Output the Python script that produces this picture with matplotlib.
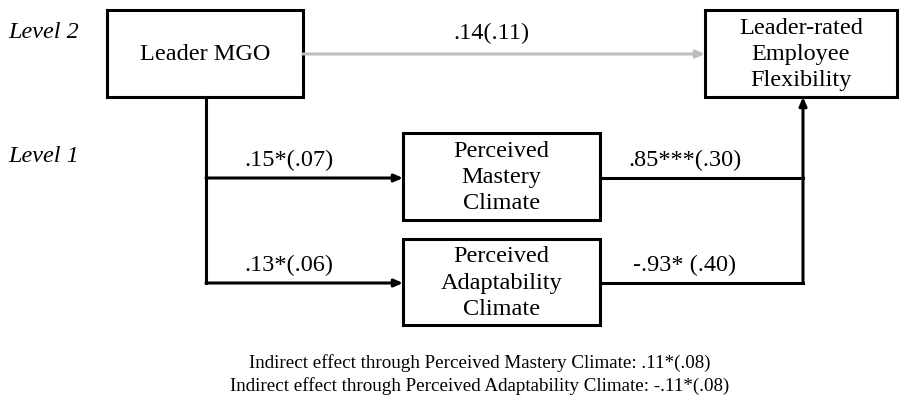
import matplotlib
matplotlib.use('Agg')
import matplotlib.pyplot as plt
from matplotlib.patches import Rectangle

plt.rcParams['font.family'] = ['Liberation Serif', 'DejaVu Serif']

# node labels
box_names = ['Leader MGO', 'Leader-rated\nEmployee\nFlexibility',
             'Perceived\nMastery\nClimate', 'Perceived\nAdaptability\nClimate']
# path coefficients (SE)
direct_label = '.14(.11)'
a_labels = ['.15*(.07)', '.13*(.06)']
b_labels = ['.85***(.30)', '-.93* (.40)']
level_labels = ['Level 2', 'Level 1']
indirect_lines = ['Indirect effect through Perceived Mastery Climate: .11*(.08)',
                  'Indirect effect through Perceived Adaptability Climate: -.11*(.08)']

fig = plt.figure(figsize=(9, 4.08), dpi=100)
ax = fig.add_axes([0, 0, 1, 1])
ax.set_xlim(0, 900)
ax.set_ylim(408, 0)
ax.axis('off')

fs = 17.5
lw = 2.2

# boxes: x0, y0, x1, y1
boxes = [(107, 10, 303, 97), (705, 10, 897, 97), (403, 133, 600, 220), (403, 239, 600, 325)]
for (x0, y0, x1, y1), name in zip(boxes, box_names):
    ax.add_patch(Rectangle((x0, y0), x1 - x0, y1 - y0, fill=False, ec='black', lw=lw))
    ax.text((x0 + x1) / 2, (y0 + y1) / 2 + 1, name, ha='center', va='center',
            fontsize=fs, linespacing=1.34)

arrow = dict(arrowstyle='-|>,head_length=0.5,head_width=0.22', lw=lw, color='black',
             shrinkA=0, shrinkB=0)

# direct effect (grey)
ax.annotate('', xy=(705, 54), xytext=(303, 54),
            arrowprops=dict(arrow, color='#bdbdbd'))
ax.text(491, 33, direct_label, ha='center', va='center', fontsize=fs)

# left trunk
ax.plot([206, 206], [97, 283], color='black', lw=lw, solid_capstyle='projecting')
# right trunk
ax.annotate('', xy=(803, 97), xytext=(803, 283), arrowprops=arrow)

rows = [178, 283]
for y, a, b in zip(rows, a_labels, b_labels):
    ax.annotate('', xy=(403, y), xytext=(206, y), arrowprops=arrow)
    ax.plot([600, 803], [y, y], color='black', lw=lw, solid_capstyle='projecting')
    ax.text(289, y - 18, a, ha='center', va='center', fontsize=fs)
    ax.text(685, y - 18, b, ha='center', va='center', fontsize=fs)

ax.text(8, 33, level_labels[0], ha='left', va='center', fontsize=fs, style='italic')
ax.text(8, 156, level_labels[1], ha='left', va='center', fontsize=fs, style='italic')

ax.text(480, 363, indirect_lines[0], ha='center', va='center', fontsize=13.7)
ax.text(480, 386, indirect_lines[1], ha='center', va='center', fontsize=13.7)

fig.savefig('out.png', dpi=100)
